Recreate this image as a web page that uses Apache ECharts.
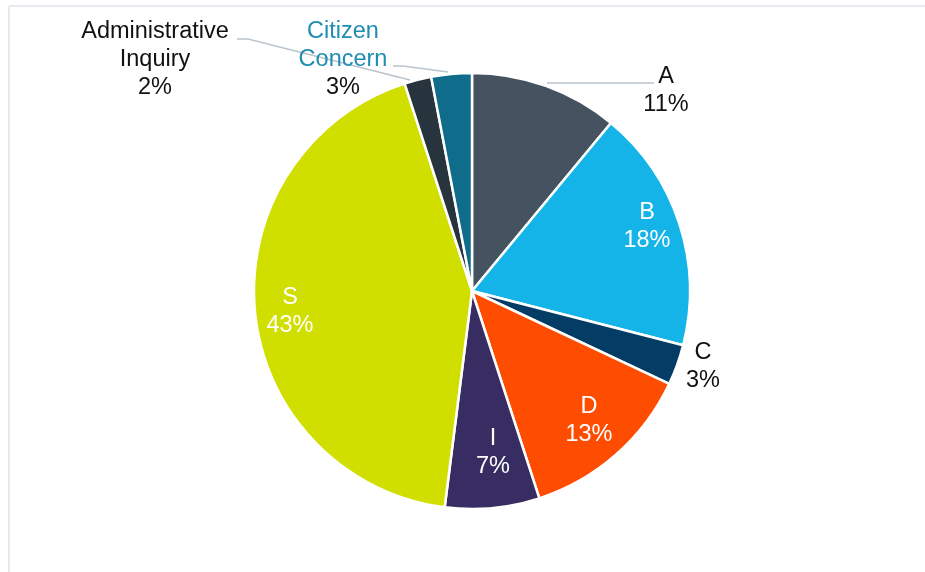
<!DOCTYPE html>
<html>
<head>
<meta charset="utf-8">
<script src="https://cdn.jsdelivr.net/npm/echarts@6/dist/echarts.min.js"></script>
<style>
  html, body { margin: 0; padding: 0; background: #fff; }
  #chart { width: 925px; height: 572px; }
</style>
</head>
<body>
<div id="chart"></div>
<script>
// Share of cases by category (percent)
const categories = ['A', 'B', 'C', 'D', 'I', 'S', 'Administrative\nInquiry', 'Citizen\nConcern'];
const shares = [11, 18, 3, 13, 7, 43, 2, 3];
const sliceColors = ['#44535f', '#15b4e8', '#033d66', '#fe4c00', '#382d63', '#d1df00', '#28343d', '#0f6c8b'];

// Label placement (centre of each label block) and leader lines
const labelSpots = [
  [666, 91], [647, 227], [703, 367], [589, 421],
  [493, 453], [290, 312], [155, 60], [343, 60]
];
const leaderLines = {
  0: [[547, 83], [600, 83], [654, 83]],
  6: [[237, 39], [248, 39], [410, 80]],
  7: [[393, 66], [403, 66], [448, 72]]
};
const insideSlices = [1, 3, 4, 5];

const FONT = "'Liberation Sans', Arial, sans-serif";
const FONT_SIZE = 23.5;
const LINE_H = 28;

const chart = echarts.init(document.getElementById('chart'));

const data = categories.map((name, i) => {
  const inside = insideSlices.includes(i);
  const item = {
    name: name,
    value: shares[i],
    itemStyle: { color: sliceColors[i] },
    label: { color: inside ? '#ffffff' : '#111111' },
    labelLine: { show: !!leaderLines[i] }
  };
  if (i === 7) {
    // two-tone label: teal name, black percentage
    item.label.formatter = (p) => '{t|Citizen}\n{t|Concern}\n' + p.value + '%';
  }
  return item;
});

chart.setOption({
  animation: false,
  backgroundColor: '#ffffff',
  graphic: [
    { type: 'line', shape: { x1: 9, y1: 6, x2: 925, y2: 6 }, style: { stroke: '#dfe5ea', lineWidth: 1.5 } },
    { type: 'line', shape: { x1: 9, y1: 6, x2: 9, y2: 572 }, style: { stroke: '#dfe5ea', lineWidth: 1.5 } }
  ],
  series: [{
    type: 'pie',
    center: [472, 291],
    radius: [0, 218],
    startAngle: 90,
    clockwise: true,
    data: data,
    itemStyle: { borderColor: '#ffffff', borderWidth: 2.5 },
    label: {
      show: true,
      position: 'outside',
      fontFamily: FONT,
      fontSize: FONT_SIZE,
      lineHeight: LINE_H,
      align: 'center',
      formatter: (p) => p.name + '\n' + p.value + '%',
      rich: {
        t: { color: '#1f8db2', fontSize: FONT_SIZE, lineHeight: LINE_H, fontFamily: FONT }
      }
    },
    labelLine: {
      show: false,
      smooth: false,
      lineStyle: { color: '#b9c4cd', width: 1.5 }
    },
    labelLayout: (params) => {
      const i = params.dataIndex;
      const spot = labelSpots[i];
      const out = { x: spot[0], y: spot[1], align: 'center', verticalAlign: 'middle' };
      if (leaderLines[i]) out.labelLinePoints = leaderLines[i];
      return out;
    },
    emphasis: { disabled: true }
  }]
});
</script>
</body>
</html>
